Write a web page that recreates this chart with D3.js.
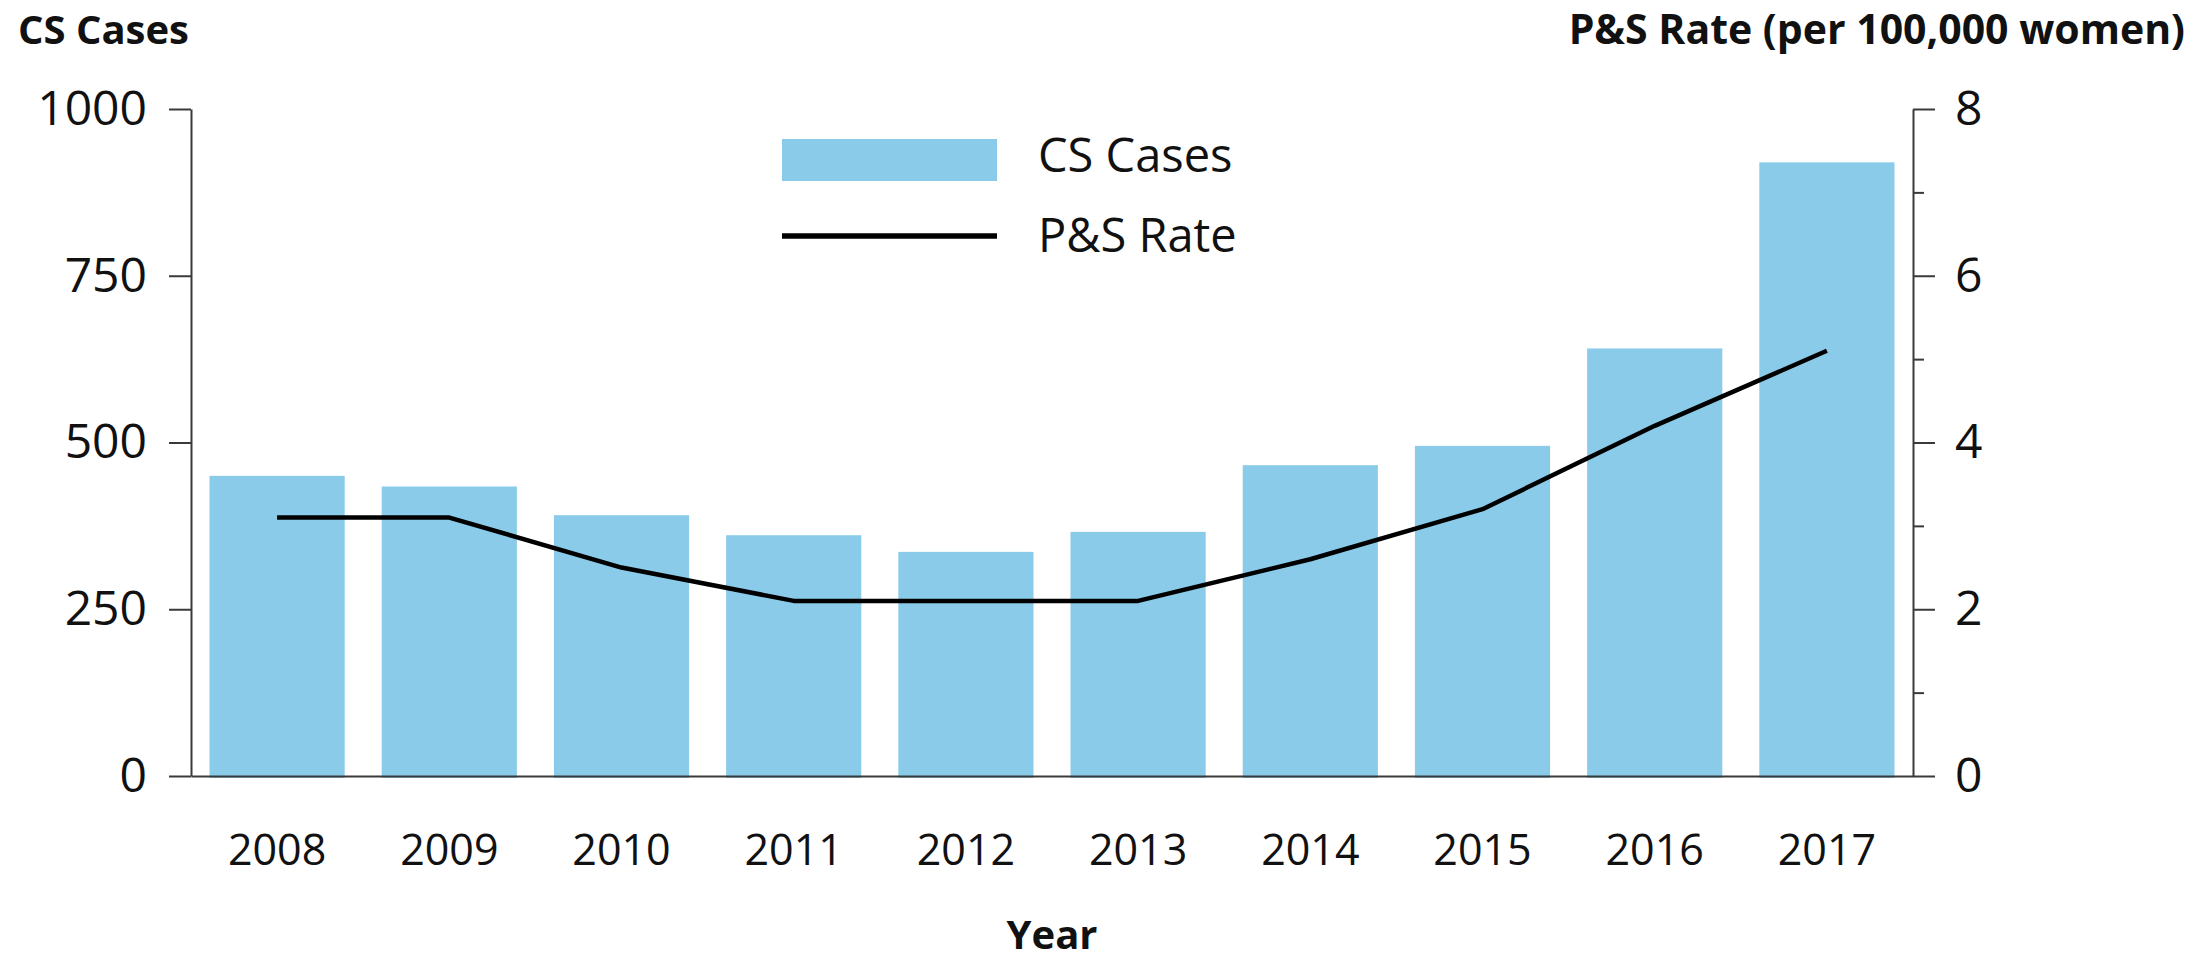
<!DOCTYPE html>
<html>
<head>
<meta charset="utf-8">
<script src="https://cdn.jsdelivr.net/npm/d3@7"></script>
<style>
  body { margin: 0; background: #fff; }
  text { font-family: "Open Sans", "Noto Sans", sans-serif; fill: #111; }
  .axis path, .axis line { stroke: #3a3a3a; stroke-width: 2; }
</style>
</head>
<body>
<div id="chart"></div>
<script>
// Chart data
const years = ["2008", "2009", "2010", "2011", "2012", "2013", "2014", "2015", "2016", "2017"];
const csCases = [450, 434, 391, 361, 336, 366, 466, 495, 641, 920];
const psRate = [3.1, 3.1, 2.5, 2.1, 2.1, 2.1, 2.6, 3.2, 4.2, 5.1];
const leftTicks = [0, 250, 500, 750, 1000];
const rightTicks = [0, 1, 2, 3, 4, 5, 6, 7, 8];

const width = 2207;
const height = 961;
const margin = { top: 109, right: 294, bottom: 185, left: 191 };
const barColor = "#89cbe8";

const svg = d3.select("#chart")
    .append("svg")
    .attr("width", width)
    .attr("height", height);

// Scales
const x = d3.scaleBand()
    .domain(years)
    .range([margin.left, width - margin.right])
    .paddingInner(0.215)
    .paddingOuter(0.1075);

const yLeft = d3.scaleLinear()
    .domain([0, 1000])
    .range([height - margin.bottom, margin.top]);

const yRight = d3.scaleLinear()
    .domain([0, 8])
    .range([height - margin.bottom, margin.top]);

// Bars
svg.append("g")
    .selectAll("rect")
    .data(csCases)
    .enter()
    .append("rect")
    .attr("x", (d, i) => x(years[i]))
    .attr("y", d => yLeft(d))
    .attr("width", x.bandwidth())
    .attr("height", d => yLeft(0) - yLeft(d) + 2)
    .attr("fill", barColor);

// Left axis
const leftAxis = svg.append("g")
    .attr("class", "axis")
    .attr("transform", `translate(${margin.left},0)`)
    .call(d3.axisLeft(yLeft).tickValues(leftTicks).tickFormat(d3.format("d"))
        .tickSize(22).tickSizeOuter(0).tickPadding(22));
leftAxis.selectAll("text").style("font-size", "48px");

// Right axis (minor ticks on odd values, no label)
const rightAxis = svg.append("g")
    .attr("class", "axis")
    .attr("transform", `translate(${width - margin.right},0)`)
    .call(d3.axisRight(yRight).tickValues(rightTicks).tickSize(22).tickSizeOuter(0).tickPadding(20));
rightAxis.selectAll("text").style("font-size", "48px");
rightAxis.selectAll(".tick").filter(d => d % 2 === 1).each(function() {
    d3.select(this).select("line").attr("x2", 11);
    d3.select(this).select("text").remove();
});

// Bottom axis
const bottomAxis = svg.append("g")
    .attr("class", "axis")
    .attr("transform", `translate(0,${yLeft(0)})`)
    .call(d3.axisBottom(x).tickSize(0).tickSizeOuter(0).tickPadding(58));
bottomAxis.selectAll("text").style("font-size", "43px");

// Rate line
const line = d3.line()
    .x((d, i) => x(years[i]) + x.bandwidth() / 2)
    .y(d => yRight(d));

svg.append("path")
    .datum(psRate)
    .attr("fill", "none")
    .attr("stroke", "#000")
    .attr("stroke-width", 4.5)
    .attr("stroke-linejoin", "round")
    .attr("d", line);

// Axis titles
svg.append("text")
    .attr("x", 18)
    .attr("y", 44)
    .style("font-size", "40px")
    .style("font-weight", "bold")
    .text("CS Cases");

svg.append("text")
    .attr("x", 2185)
    .attr("y", 44)
    .attr("text-anchor", "end")
    .style("font-size", "41px")
    .style("font-weight", "bold")
    .text("P&S Rate (per 100,000 women)");

svg.append("text")
    .attr("x", (margin.left + width - margin.right) / 2)
    .attr("y", 949)
    .attr("text-anchor", "middle")
    .style("font-size", "40px")
    .style("font-weight", "bold")
    .text("Year");

// Legend
const legend = svg.append("g");
legend.append("rect")
    .attr("x", 782)
    .attr("y", 139)
    .attr("width", 215)
    .attr("height", 42)
    .attr("fill", barColor);
legend.append("text")
    .attr("x", 1038)
    .attr("y", 172)
    .style("font-size", "47px")
    .text("CS Cases");
legend.append("line")
    .attr("x1", 782)
    .attr("x2", 997)
    .attr("y1", 236)
    .attr("y2", 236)
    .attr("stroke", "#000")
    .attr("stroke-width", 5.5);
legend.append("text")
    .attr("x", 1038)
    .attr("y", 252)
    .style("font-size", "47px")
    .text("P&S Rate");
</script>
</body>
</html>
